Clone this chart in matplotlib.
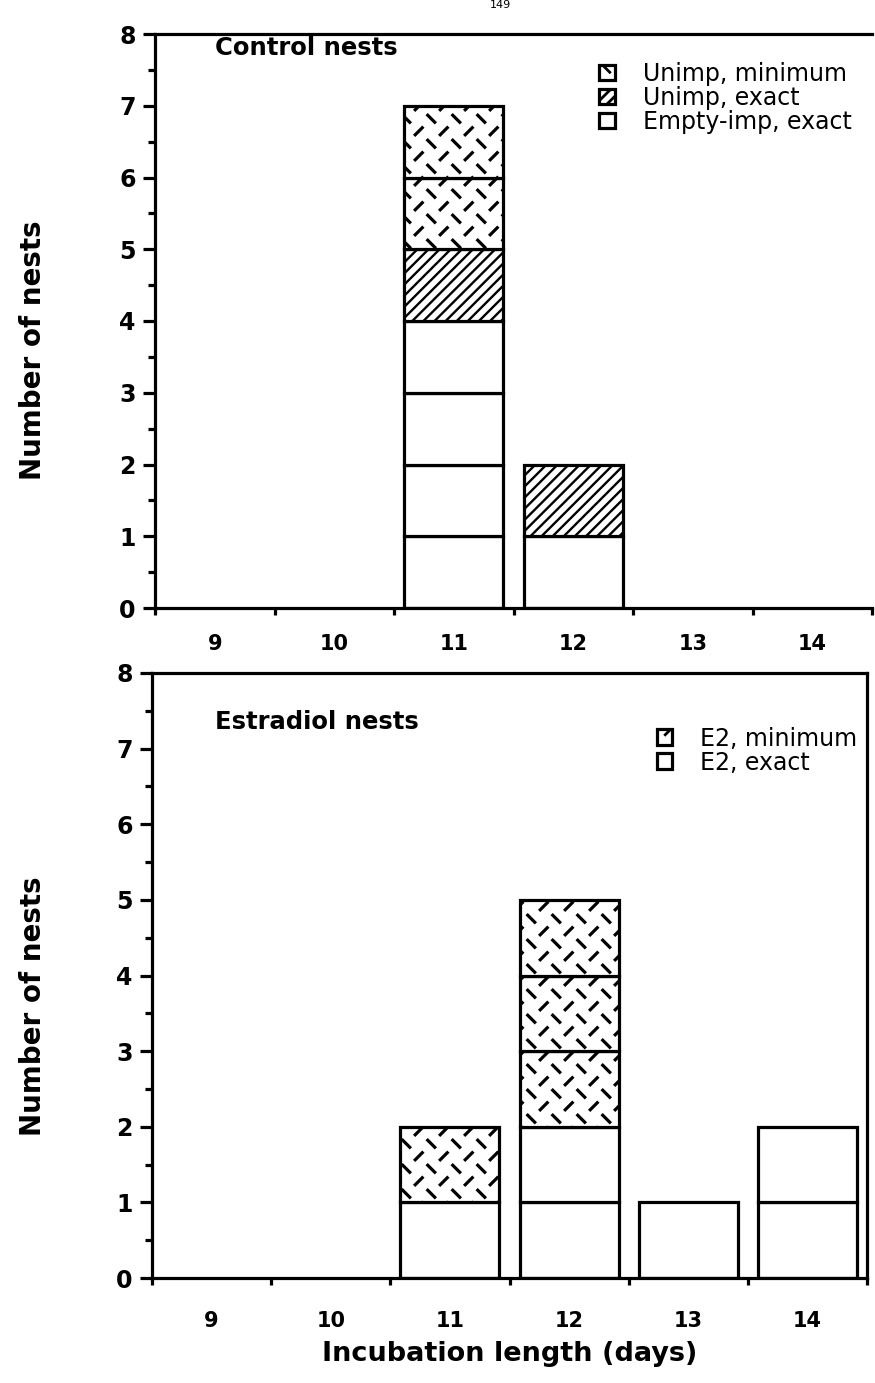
import warnings
import matplotlib
matplotlib.use("Agg")
import matplotlib.pyplot as plt
import matplotlib.hatch as mhatch
from matplotlib.path import Path
from matplotlib.patches import Patch
from matplotlib.ticker import FixedLocator, MultipleLocator, NullFormatter, FixedFormatter

warnings.filterwarnings("ignore", category=matplotlib.MatplotlibDeprecationWarning)

days = [9, 10, 11, 12, 13, 14]

# control nests, counts per incubation length
ctrl_empty_exact = [0, 0, 4, 1, 0, 0]
ctrl_unimp_exact = [0, 0, 1, 1, 0, 0]
ctrl_unimp_min = [0, 0, 2, 0, 0, 0]

# estradiol nests
e2_exact = [0, 0, 1, 2, 1, 2]
e2_min = [0, 0, 1, 3, 0, 0]


class DashWeave(mhatch.HatchPatternBase):
    """short broken diagonal strokes, rows alternating \\ and /"""

    def __init__(self, hatch, density):
        self.cells = hatch.count('w') * 4
        self.num_vertices = self.cells ** 2 * 4

    def set_vertices_and_codes(self, vertices, codes):
        n = self.cells
        s = 1.0 / n
        d = 0.14 * s
        pts = []
        for i in range(n):
            for j in range(n):
                x0, y0 = i * s, j * s
                cx, cy = x0 + 0.25 * s, y0 + 0.25 * s
                pts += [(cx - d, cy + d), (cx + d, cy - d)]
                cx, cy = x0 + 0.75 * s, y0 + 0.75 * s
                pts += [(cx - d, cy - d), (cx + d, cy + d)]
        vertices[:] = pts
        codes[0::2] = Path.MOVETO
        codes[1::2] = Path.LINETO


mhatch._hatch_types.append(DashWeave)

plt.rcParams['font.family'] = ['DejaVu Sans']
plt.rcParams['hatch.linewidth'] = 2.0

LW = 2.3
BAR_W = 0.83


def stack_units(ax, counts_list, hatches, lw_hatch):
    # every nest is drawn as its own unit box, stacked per day
    base = [0] * len(days)
    for counts, h, hl in zip(counts_list, hatches, lw_hatch):
        for i, d in enumerate(days):
            for k in range(counts[i]):
                bars = ax.bar(d, 1, bottom=base[i], width=BAR_W, color='white',
                              edgecolor='black', linewidth=LW, hatch=h)
                for b in bars:
                    if hasattr(b, 'set_hatch_linewidth'):
                        b.set_hatch_linewidth(hl)
                base[i] += 1


def style_axes(ax, right_spine, xpad):
    ax.set_xlim(8.5, 14.5)
    ax.set_ylim(0, 8)
    for s in ['left', 'bottom', 'top']:
        ax.spines[s].set_linewidth(LW)
    ax.spines['right'].set_visible(right_spine)
    ax.spines['right'].set_linewidth(LW)
    ax.xaxis.set_major_locator(FixedLocator([x + 0.5 for x in range(8, 15)]))
    ax.xaxis.set_major_formatter(NullFormatter())
    ax.xaxis.set_minor_locator(FixedLocator(days))
    ax.xaxis.set_minor_formatter(FixedFormatter([str(d) for d in days]))
    ax.tick_params(axis='x', which='major', direction='out', length=5, width=LW)
    ax.tick_params(axis='x', which='minor', length=0, pad=xpad, labelsize=15)
    ax.yaxis.set_major_locator(MultipleLocator(1))
    ax.yaxis.set_minor_locator(MultipleLocator(0.5))
    ax.tick_params(axis='y', which='major', direction='out', length=9, width=LW,
                   labelsize=17, pad=5)
    ax.tick_params(axis='y', which='minor', direction='out', length=5, width=LW)
    for lab in ax.get_xticklabels(minor=True) + ax.get_yticklabels():
        lab.set_fontweight('bold')
    ax.set_ylabel('Number of nests', fontsize=20, fontweight='bold')


def add_legend(ax, handles, anchor):
    ax.legend(handles=handles, loc='upper right', bbox_to_anchor=anchor,
              frameon=False, fontsize=17, handlelength=0.65, handleheight=0.65,
              handletextpad=1.2, labelspacing=0.0, borderaxespad=0.0)


fig = plt.figure(figsize=(8.75, 13.83), dpi=100)
ax1 = fig.add_axes([155 / 875, 1 - 608 / 1383, 717 / 875, 574 / 1383])
ax2 = fig.add_axes([152 / 875, 1 - 1278 / 1383, 715 / 875, 605 / 1383])

stack_units(ax1, [ctrl_empty_exact, ctrl_unimp_exact, ctrl_unimp_min],
            [None, '///', 'w'], [1.7, 1.7, 2.3])
style_axes(ax1, right_spine=False, xpad=19)
ax1.yaxis.set_label_coords(-0.151, 0.45)
ax1.text(0.084, 0.976, 'Control nests', transform=ax1.transAxes, fontsize=17.5,
         fontweight='bold', va='center', ha='left')
h1 = [Patch(facecolor='white', edgecolor='black', linewidth=LW, hatch='w', label='Unimp, minimum'),
      Patch(facecolor='white', edgecolor='black', linewidth=LW, hatch='///', label='Unimp, exact'),
      Patch(facecolor='white', edgecolor='black', linewidth=LW, label='Empty-imp, exact')]
add_legend(ax1, h1, (0.985, 0.968))

stack_units(ax2, [e2_exact, e2_min], [None, 'w'], [1.7, 2.3])
style_axes(ax2, right_spine=True, xpad=24)
ax2.yaxis.set_label_coords(-0.147, 0.45)
ax2.text(0.088, 0.919, 'Estradiol nests', transform=ax2.transAxes, fontsize=17.5,
         fontweight='bold', va='center', ha='left')
h2 = [Patch(facecolor='white', edgecolor='black', linewidth=LW, hatch='w', label='E2, minimum'),
      Patch(facecolor='white', edgecolor='black', linewidth=LW, label='E2, exact')]
add_legend(ax2, h2, (1.0, 0.927))
ax2.set_xlabel('Incubation length (days)', fontsize=19.5, fontweight='bold', labelpad=7)

# page number at the top edge
fig.text(500 / 875, 1.0, '149', ha='center', va='top', fontsize=8)

fig.savefig('out.png', dpi=100)
